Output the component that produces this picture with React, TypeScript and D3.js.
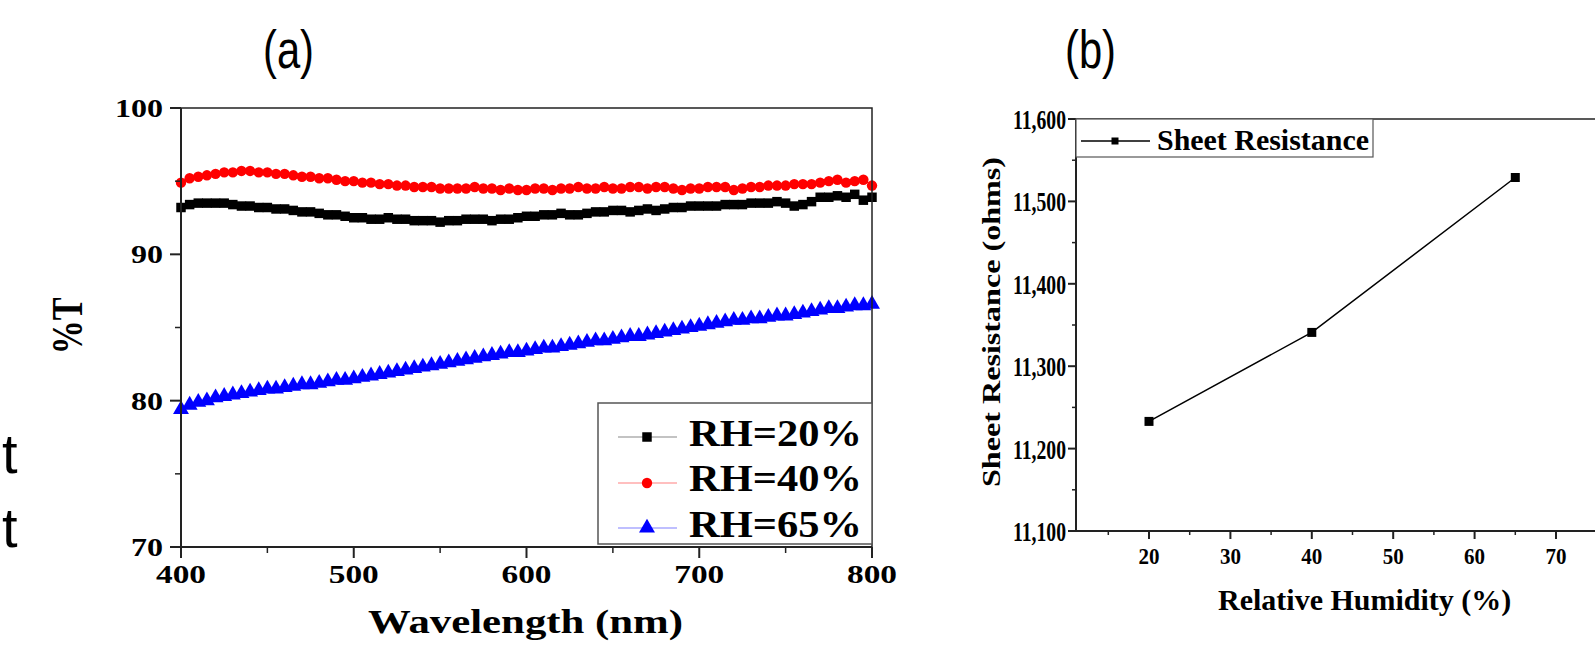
import React from 'react'
import * as d3 from 'd3'

// panel (a): transmittance vs wavelength, 5 nm steps
const wavelengths = d3.range(400, 801, 5)
const rh20 = [
  93.2, 93.4, 93.5, 93.5, 93.5, 93.5, 93.4, 93.3, 93.3, 93.2, 93.2, 93.1, 93.1, 93.0, 92.9, 92.9, 92.8, 92.7, 92.7, 92.6,
  92.5, 92.5, 92.4, 92.4, 92.5, 92.4, 92.4, 92.3, 92.3, 92.3, 92.2, 92.3, 92.3, 92.4, 92.4, 92.4, 92.3, 92.4, 92.4, 92.5,
  92.6, 92.6, 92.7, 92.7, 92.8, 92.7, 92.7, 92.8, 92.9, 92.9, 93.0, 93.0, 92.9, 93.0, 93.1, 93.0, 93.1, 93.2, 93.2, 93.3,
  93.3, 93.3, 93.3, 93.4, 93.4, 93.4, 93.5, 93.5, 93.5, 93.6, 93.5, 93.3, 93.4, 93.6, 93.9, 93.9, 94.0, 93.9, 94.1, 93.7,
  93.9,
]
const rh40 = [
  94.9, 95.2, 95.3, 95.4, 95.5, 95.6, 95.6, 95.7, 95.7, 95.6, 95.6, 95.5, 95.5, 95.4, 95.3, 95.3, 95.2, 95.2, 95.1, 95.0,
  95.0, 94.9, 94.9, 94.8, 94.8, 94.7, 94.7, 94.6, 94.6, 94.6, 94.5, 94.5, 94.5, 94.5, 94.6, 94.5, 94.5, 94.4, 94.5, 94.4,
  94.4, 94.5, 94.5, 94.4, 94.5, 94.5, 94.6, 94.5, 94.5, 94.6, 94.5, 94.5, 94.6, 94.6, 94.5, 94.6, 94.6, 94.5, 94.4, 94.5,
  94.5, 94.6, 94.6, 94.6, 94.4, 94.5, 94.6, 94.6, 94.7, 94.7, 94.7, 94.8, 94.8, 94.8, 94.9, 95.0, 95.1, 94.9, 95.0, 95.1,
  94.7,
]
const rh65 = [
  79.4, 79.7, 79.9, 80.0, 80.2, 80.3, 80.4, 80.5, 80.6, 80.7, 80.8, 80.8, 80.9, 81.0, 81.1, 81.1, 81.2, 81.3, 81.4, 81.4,
  81.5, 81.6, 81.7, 81.8, 81.9, 82.0, 82.1, 82.2, 82.3, 82.4, 82.5, 82.6, 82.7, 82.8, 82.9, 83.0, 83.1, 83.2, 83.3, 83.3,
  83.4, 83.5, 83.6, 83.6, 83.7, 83.8, 83.9, 84.0, 84.1, 84.1, 84.2, 84.3, 84.4, 84.4, 84.5, 84.6, 84.7, 84.8, 84.9, 85.0,
  85.1, 85.2, 85.3, 85.4, 85.5, 85.5, 85.6, 85.6, 85.7, 85.8, 85.8, 85.9, 86.0, 86.1, 86.2, 86.3, 86.3, 86.4, 86.5, 86.5,
  86.6,
]
const seriesNames = ['RH=20%', 'RH=40%', 'RH=65%']
const seriesColors = ['#000000', '#ff0000', '#0000ff']
const legendLineColors = ['#888888', '#ff8080', '#8080ff']
const seriesSymbols = [d3.symbolSquare, d3.symbolCircle, d3.symbolTriangle]
const aXTicks = [400, 500, 600, 700, 800]
const aYTicks = [70, 80, 90, 100]

// panel (b): sheet resistance vs humidity
const humidity = [20, 40, 65]
const resistance = [11233, 11341, 11529]
const bXTicks = [20, 30, 40, 50, 60, 70]
const bYTicks = [11100, 11200, 11300, 11400, 11500, 11600]

const serif = '"Liberation Serif", "Times New Roman", serif'
const sans = '"Liberation Sans", Arial, sans-serif'
const axisColor = '#222'

function PanelA() {
  const x = d3.scaleLinear().domain([400, 800]).range([181, 872])
  const y = d3.scaleLinear().domain([70, 100]).range([547, 108])
  const all = [rh20, rh40, rh65]
  const line = d3.line<number>().x((d, i) => x(wavelengths[i])).y(d => y(d))
  const sizes = [90, 85, 110]
  const minorX = d3.range(450, 800, 100)
  const minorY = d3.range(75, 100, 10)
  return (
    <g>
      <text x={263} y={68} fontFamily={sans} fontSize={54} textLength={51} lengthAdjust="spacingAndGlyphs">(a)</text>
      {all.map((s, k) => (
        <g key={k}>
          <path d={line(s) || ''} fill="none" stroke={seriesColors[k]} strokeWidth={1} />
          {s.map((v, i) => (
            <path key={i} transform={`translate(${x(wavelengths[i])},${y(v)})`}
              d={d3.symbol(seriesSymbols[k], sizes[k])() || ''} fill={seriesColors[k]} />
          ))}
        </g>
      ))}
      {/* frame */}
      <rect x={181} y={108} width={872 - 181} height={547 - 108} fill="none" stroke={axisColor} strokeWidth={1.5} />
      <line x1={181} x2={181} y1={108} y2={547} stroke={axisColor} strokeWidth={2} />
      <line x1={181} x2={872} y1={547} y2={547} stroke={axisColor} strokeWidth={2} />
      {aYTicks.map(t => (
        <g key={t}>
          <line x1={170} x2={181} y1={y(t)} y2={y(t)} stroke={axisColor} strokeWidth={2} />
          <text x={163} y={y(t) + 9} textAnchor="end" fontFamily={serif} fontWeight="bold" fontSize={26}
            textLength={String(t).length * 16} lengthAdjust="spacingAndGlyphs">{t}</text>
        </g>
      ))}
      {minorY.map(t => <line key={t} x1={175} x2={181} y1={y(t)} y2={y(t)} stroke={axisColor} strokeWidth={1.5} />)}
      {aXTicks.map(t => (
        <g key={t}>
          <line x1={x(t)} x2={x(t)} y1={547} y2={558} stroke={axisColor} strokeWidth={2} />
          <text x={x(t)} y={583} textAnchor="middle" fontFamily={serif} fontWeight="bold" fontSize={26}
            textLength={50} lengthAdjust="spacingAndGlyphs">{t}</text>
        </g>
      ))}
      {minorX.map(t => <line key={t} x1={x(t)} x2={x(t)} y1={547} y2={553} stroke={axisColor} strokeWidth={1.5} />)}
      <text x={368} y={633} fontFamily={serif} fontWeight="bold" fontSize={33} textLength={315}
        lengthAdjust="spacingAndGlyphs">Wavelength (nm)</text>
      <text transform="translate(82,326) rotate(-90) scale(1,1.3)" textAnchor="middle" fontFamily={serif}
        fontWeight="bold" fontSize={34}>%T</text>
      {/* legend */}
      <rect x={598} y={403} width={872 - 598} height={544 - 403} fill="#fff" stroke="#555" strokeWidth={1.5} />
      {seriesNames.map((n, k) => {
        const cy = [437, 483, 528][k]
        const by = [446, 491, 537][k]
        return (
          <g key={n}>
            <line x1={618} x2={677} y1={cy} y2={cy} stroke={legendLineColors[k]} strokeWidth={1.2} />
            <path transform={`translate(647,${cy})`} d={d3.symbol(seriesSymbols[k], sizes[k])() || ''} fill={seriesColors[k]} />
            <text x={689} y={by} fontFamily={serif} fontWeight="bold" fontSize={38} textLength={173}
              lengthAdjust="spacingAndGlyphs">{n}</text>
          </g>
        )
      })}
    </g>
  )
}

function PanelB() {
  const x = d3.scaleLinear().domain([20, 70]).range([1149, 1556])
  const y = d3.scaleLinear().domain([11100, 11600]).range([531, 119])
  const x0 = 1076
  const pts = humidity.map((h, i) => [h, resistance[i]] as [number, number])
  const line = d3.line<[number, number]>().x(d => x(d[0])).y(d => y(d[1]))
  const minorX = d3.range(15, 80, 10)
  const minorY = d3.range(11150, 11600, 100)
  const sq = d3.symbol(d3.symbolSquare, 81)() || ''
  return (
    <g>
      <text x={1065} y={68} fontFamily={sans} fontSize={54} textLength={51} lengthAdjust="spacingAndGlyphs">(b)</text>
      <line x1={x0} x2={1595} y1={119} y2={119} stroke={axisColor} strokeWidth={1.5} />
      <line x1={x0} x2={x0} y1={119} y2={531} stroke={axisColor} strokeWidth={2} />
      <line x1={x0} x2={1595} y1={531} y2={531} stroke={axisColor} strokeWidth={2} />
      {bYTicks.map(t => (
        <g key={t}>
          <line x1={x0 - 8} x2={x0} y1={y(t)} y2={y(t)} stroke={axisColor} strokeWidth={2} />
          <text x={x0 - 10} y={y(t) + 10} textAnchor="end" fontFamily={serif} fontWeight="bold" fontSize={28}
            textLength={53} lengthAdjust="spacingAndGlyphs">{d3.format(',')(t)}</text>
        </g>
      ))}
      {minorY.map(t => <line key={t} x1={x0 - 4} x2={x0} y1={y(t)} y2={y(t)} stroke={axisColor} strokeWidth={1.5} />)}
      {bXTicks.map(t => (
        <g key={t}>
          <line x1={x(t)} x2={x(t)} y1={531} y2={539} stroke={axisColor} strokeWidth={2} />
          <text x={x(t)} y={564} textAnchor="middle" fontFamily={serif} fontWeight="bold" fontSize={24}
            textLength={21} lengthAdjust="spacingAndGlyphs">{t}</text>
        </g>
      ))}
      {minorX.map(t => <line key={t} x1={x(t)} x2={x(t)} y1={531} y2={535} stroke={axisColor} strokeWidth={1.5} />)}
      <path d={line(pts) || ''} fill="none" stroke="#000" strokeWidth={1.5} />
      {pts.map((p, i) => (
        <path key={i} transform={`translate(${x(p[0])},${y(p[1])})`} d={sq} fill="#000" />
      ))}
      <text x={1218} y={610} fontFamily={serif} fontWeight="bold" fontSize={30}>Relative Humidity (%)</text>
      <text transform="translate(1000,322) rotate(-90) scale(1,0.8)" textAnchor="middle" fontFamily={serif}
        fontWeight="bold" fontSize={32} textLength={330} lengthAdjust="spacingAndGlyphs">Sheet Resistance (ohms)</text>
      {/* legend */}
      <rect x={x0} y={119} width={1373 - x0} height={157 - 119} fill="#fff" stroke="#555" strokeWidth={1.2} />
      <line x1={1081} x2={1150} y1={141} y2={141} stroke="#000" strokeWidth={1.5} />
      <path transform="translate(1115,141)" d={d3.symbol(d3.symbolSquare, 49)() || ''} fill="#000" />
      <text x={1157} y={150} fontFamily={serif} fontWeight="bold" fontSize={30} textLength={212}
        lengthAdjust="spacingAndGlyphs">Sheet Resistance</text>
    </g>
  )
}

export default function App() {
  return (
    <svg width={1595} height={645} style={{ position: 'absolute', left: 0, top: 0, background: '#fff' }}>
      <rect width={1595} height={645} fill="#fff" />
      <text x={2} y={473} fontFamily={sans} fontSize={56}>t</text>
      <text x={2} y={547} fontFamily={sans} fontSize={56}>t</text>
      <PanelA />
      <PanelB />
    </svg>
  )
}
